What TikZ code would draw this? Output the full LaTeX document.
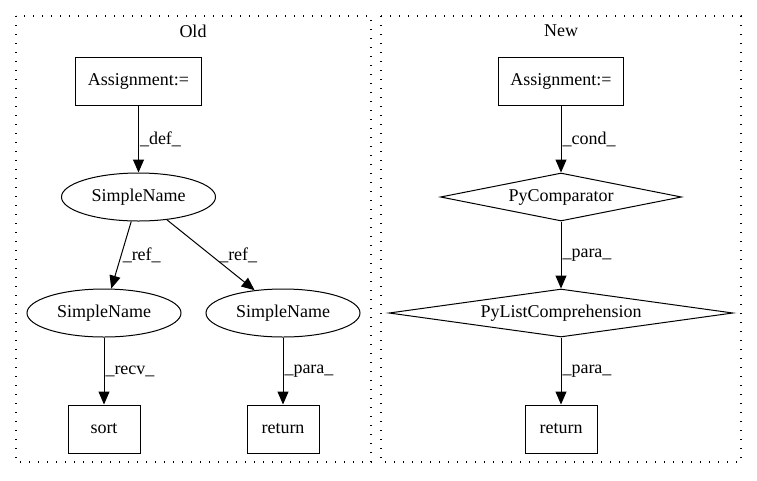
\documentclass[tikz,border=0pt]{standalone}
\usepackage{fontspec}
\setmainfont{Liberation Serif}
\usetikzlibrary{shapes.geometric,arrows.meta}
\begin{document}
\begin{tikzpicture}[x=1pt,y=-1pt,
  font=\fontsize{18pt}{21pt}\selectfont,
  boxnode/.style={draw, rectangle, line width=1pt, minimum height=48pt, minimum width=72pt, inner xsep=12pt},
  namenode/.style={draw, ellipse, line width=1pt, minimum width=154pt, minimum height=48pt, inner sep=0pt},
  cmpnode/.style={draw, diamond, aspect=7, line width=1pt, minimum height=48pt, inner sep=0pt},
  flow/.style={-{Triangle[length=13pt,width=11pt]}, line width=1pt},
  lbl/.style={right, inner sep=1pt},
  cluster/.style={line width=1.2pt, dash pattern=on 1.2pt off 7.8pt}]
\useasboundingbox (0,0) rectangle (757,480);
% clusters
\draw[cluster] (16,16) rectangle (371,462);
\draw[cluster] (381,16) rectangle (741,462);
\node (oldtitle) at (193,31) {Old};
\node (newtitle) at (561,31) {New};
% old
\node [boxnode] (oldassign) at (138.5,81) {Assignment:=};
\node [namenode] (oldname) at (138.5,197) {SimpleName};
\node [namenode] (recvname) at (104,313) {SimpleName};
\node [namenode] (retname) at (283,313) {SimpleName};
\node [boxnode] (sortcall) at (104,429) {sort};
\node [boxnode] (oldreturn) at (283,429) {return};
\draw [flow] (oldassign) -- node[lbl, midway] {\_def\_} (oldname);
\draw [flow] (oldname) -- node[lbl, midway] {\_ref\_} (recvname);
\draw [flow] (oldname) -- node[lbl, midway, xshift=7pt] {\_ref\_} (retname);
\draw [flow] (recvname) -- node[lbl, midway] {\_recv\_} (sortcall);
\draw [flow] (retname) -- node[lbl, midway] {\_para\_} (oldreturn);
% new
\node [boxnode] (newassign) at (561,81) {Assignment:=};
\node [cmpnode, minimum width=241pt] (comparator) at (561,197) {PyComparator};
\node [cmpnode, minimum width=344pt] (listcomp) at (561,313) {PyListComprehension};
\node [boxnode] (newreturn) at (561,429) {return};
\draw [flow] (newassign) -- node[lbl, midway] {\_cond\_} (comparator);
\draw [flow] (comparator) -- node[lbl, midway] {\_para\_} (listcomp);
\draw [flow] (listcomp) -- node[lbl, midway] {\_para\_} (newreturn);
\end{tikzpicture}
\end{document}
